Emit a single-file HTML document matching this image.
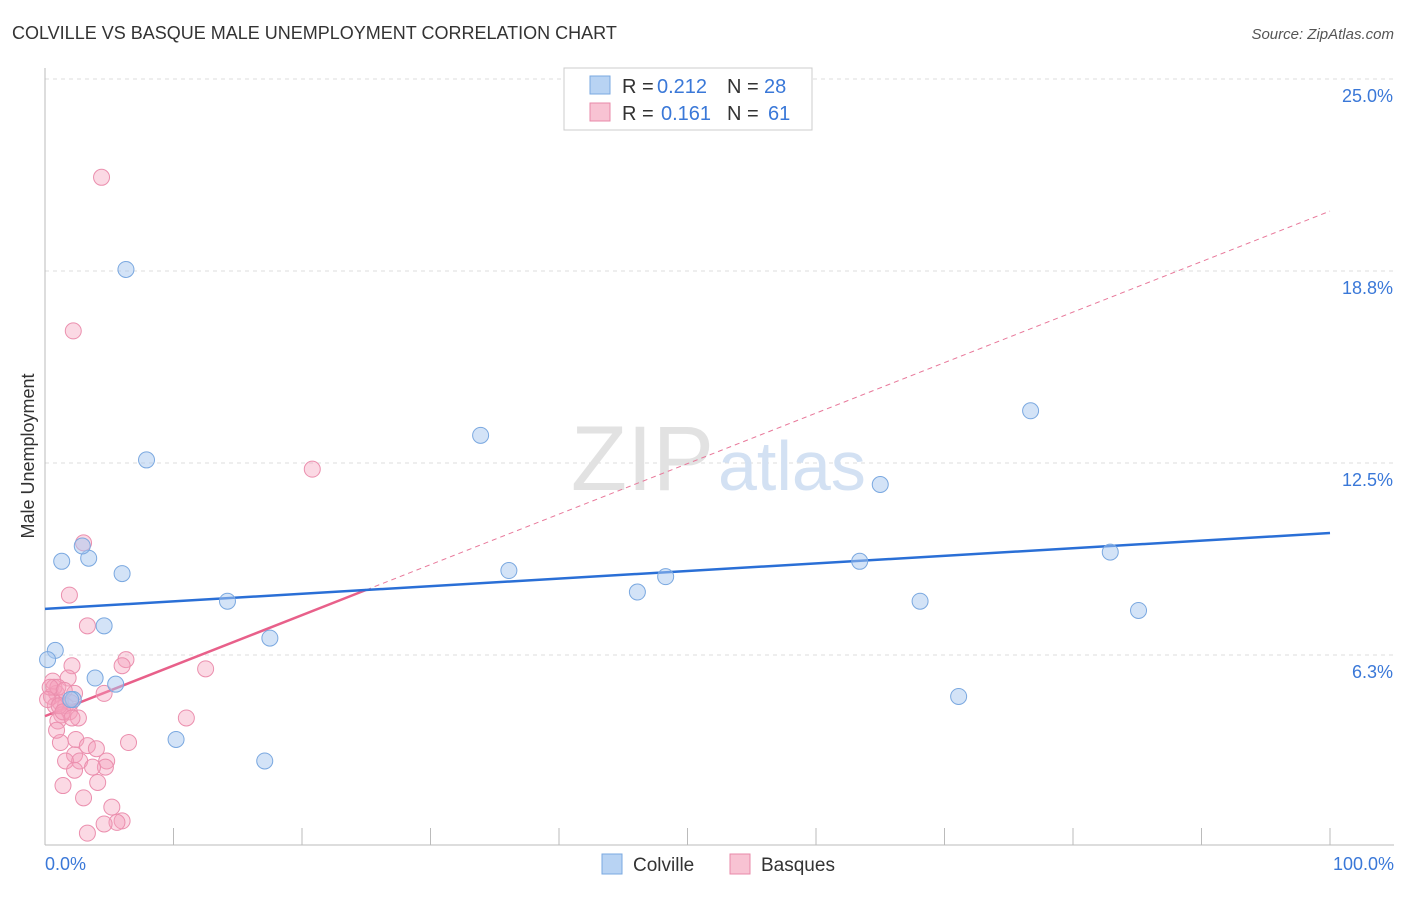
<!DOCTYPE html>
<html><head><meta charset="utf-8"><style>
body{margin:0;background:#fff;font-family:"Liberation Sans",sans-serif;}
svg text{font-family:"Liberation Sans",sans-serif;}
</style></head><body>
<svg id="chart" width="1406" height="892" viewBox="0 0 1406 892">
<text x="12" y="39" font-size="18" fill="#333">COLVILLE VS BASQUE MALE UNEMPLOYMENT CORRELATION CHART</text>
<text x="1394" y="39" font-size="15" fill="#555" font-style="italic" text-anchor="end">Source: ZipAtlas.com</text>
<g id="grid"></g>
<text x="714" y="490" font-size="92" fill="#e2e2e2" text-anchor="end" font-family="Liberation Serif">ZIP</text>
<text x="718" y="490" font-size="70" fill="#d3e1f3">atlas</text>
<g id="lines"></g>
<g id="points"></g>
<text x="34" y="456" font-size="18" fill="#333" text-anchor="middle" transform="rotate(-90 34 456)">Male Unemployment</text>
<text x="45" y="870" font-size="18" fill="#3a78d8">0.0%</text>
<text x="1394" y="870" font-size="18" fill="#3a78d8" text-anchor="end">100.0%</text>
<g>
<rect x="564" y="68" width="248" height="62" fill="#fff" stroke="#ccc"/>
<rect x="590" y="76" width="20" height="18" fill="#b8d3f3" stroke="#7aa8e0"/>
<rect x="590" y="103" width="20" height="18" fill="#f8c3d3" stroke="#e88aa8"/>
<text x="622" y="93" font-size="20" fill="#333">R =</text>
<text x="657" y="93" font-size="20" fill="#3a78d8">0.212</text>
<text x="727" y="93" font-size="20" fill="#333">N =</text>
<text x="764" y="93" font-size="20" fill="#3a78d8">28</text>
<text x="622" y="120" font-size="20" fill="#333">R =</text>
<text x="661" y="120" font-size="20" fill="#3a78d8">0.161</text>
<text x="727" y="120" font-size="20" fill="#333">N =</text>
<text x="768" y="120" font-size="20" fill="#3a78d8">61</text>
</g>
<g>
<rect x="602" y="854" width="20" height="20" fill="#b8d3f3" stroke="#7aa8e0"/>
<text x="633" y="871" font-size="19" fill="#333">Colville</text>
<rect x="730" y="854" width="20" height="20" fill="#f8c3d3" stroke="#e88aa8"/>
<text x="761" y="871" font-size="19" fill="#333">Basques</text>
</g>
</svg>
<script>
const yTicks=[25,18.75,12.5,6.25];
const yTickLabels=["25.0%","18.8%","12.5%","6.3%"];
const colvilleX=[6.3,7.9,33.9,76.7,65,1.3,3.4,2.9,6,36.1,48.3,46.1,63.4,82.9,14.2,68.1,85.1,4.6,17.5,0.8,0.2,3.9,5.5,2.2,71.1,10.2,17.1,2.0];
const colvilleY=[18.8,12.6,13.4,14.2,11.8,9.3,9.4,9.8,8.9,9.0,8.8,8.3,9.3,9.6,8.0,8.0,7.7,7.2,6.8,6.4,6.1,5.5,5.3,4.8,4.9,3.5,2.8,4.8];
const basqueX=[4.4,2.2,20.8,3.0,1.9,3.3,6.3,6.0,2.1,12.5,1.8,0.6,0.9,4.6,2.3,0.5,1.2,1.6,0.8,1.9,1.3,2.6,11.0,1.0,6.5,1.2,2.4,3.3,4.0,2.3,4.8,1.6,2.7,4.7,3.7,2.3,1.4,4.1,3.0,5.2,6.0,5.6,4.6,3.3,0.7,1.0,0.4,1.5,0.2,2.0,1.1,1.4,2.1,0.9];
const basqueY=[21.8,16.8,12.3,9.9,8.2,7.2,6.1,5.9,5.9,5.8,5.5,5.4,5.0,5.0,5.0,4.9,4.7,4.6,4.6,4.4,4.3,4.2,4.2,4.1,3.4,3.4,3.5,3.3,3.2,3.0,2.8,2.8,2.8,2.6,2.6,2.5,2.0,2.1,1.6,1.3,0.85,0.8,0.75,0.45,5.2,5.2,5.2,5.1,4.8,4.7,4.6,4.4,4.2,3.8];
const blueTrend=[7.75,10.22];
const pinkTrend=[4.26,20.7];
const pinkSolidEnd=25;
const NS="http://www.w3.org/2000/svg";
const X=v=>45+v*12.85, Y=v=>847-v*30.72;
function mk(tag,attrs,parent){const e=document.createElementNS(NS,tag);for(const k in attrs)e.setAttribute(k,attrs[k]);parent.appendChild(e);return e;}
const grid=document.getElementById('grid');
yTicks.forEach((t,i)=>{
 const l=mk('line',{x1:45,x2:1394,y1:Y(t),y2:Y(t),stroke:'#ddd','stroke-dasharray':'4,4'},grid);
 
 
 const tx=mk('text',{x:1393,y:Y(t)+23,'font-size':18,fill:'#3a78d8','text-anchor':'end'},grid);
 tx.textContent=yTickLabels[i];
 
 
});
const ax=mk('line',{x1:45,x2:1394,y1:845,y2:845,stroke:'#bbb'},grid);


const ay=mk('line',{x1:45,x2:45,y1:68,y2:845,stroke:'#bbb'},grid);


for(let i=0;i<=10;i++){const t=mk('line',{x1:X(i*10),x2:X(i*10),y1:828,y2:845,stroke:'#bbb'},grid);
 
 }
const lines=document.getElementById('lines');
const pyAt=x=>pinkTrend[0]+(pinkTrend[1]-pinkTrend[0])*x/100;
const pd=mk('line',{x1:X(pinkSolidEnd),y1:Y(pyAt(pinkSolidEnd)),x2:X(100),y2:Y(pinkTrend[1]),stroke:'#e8789a','stroke-width':1,'stroke-dasharray':'5,4'},lines);


const ps=mk('line',{x1:X(0),y1:Y(pinkTrend[0]),x2:X(pinkSolidEnd),y2:Y(pyAt(pinkSolidEnd)),stroke:'#e8608a','stroke-width':2.5},lines);


const bl=mk('line',{x1:X(0),y1:Y(blueTrend[0]),x2:X(100),y2:Y(blueTrend[1]),stroke:'#2a6fd6','stroke-width':2.5},lines);


const pts=document.getElementById('points');
basqueX.forEach((x,i)=>{const c=mk('circle',{cx:X(x),cy:Y(basqueY[i]),r:8,fill:'rgba(244,160,188,0.4)',stroke:'#eb8fae','stroke-width':1},pts);
 
 });
colvilleX.forEach((x,i)=>{const c=mk('circle',{cx:X(x),cy:Y(colvilleY[i]),r:8,fill:'rgba(168,200,240,0.5)',stroke:'#7aa8e0','stroke-width':1},pts);
 
 });
</script>
</body></html>
